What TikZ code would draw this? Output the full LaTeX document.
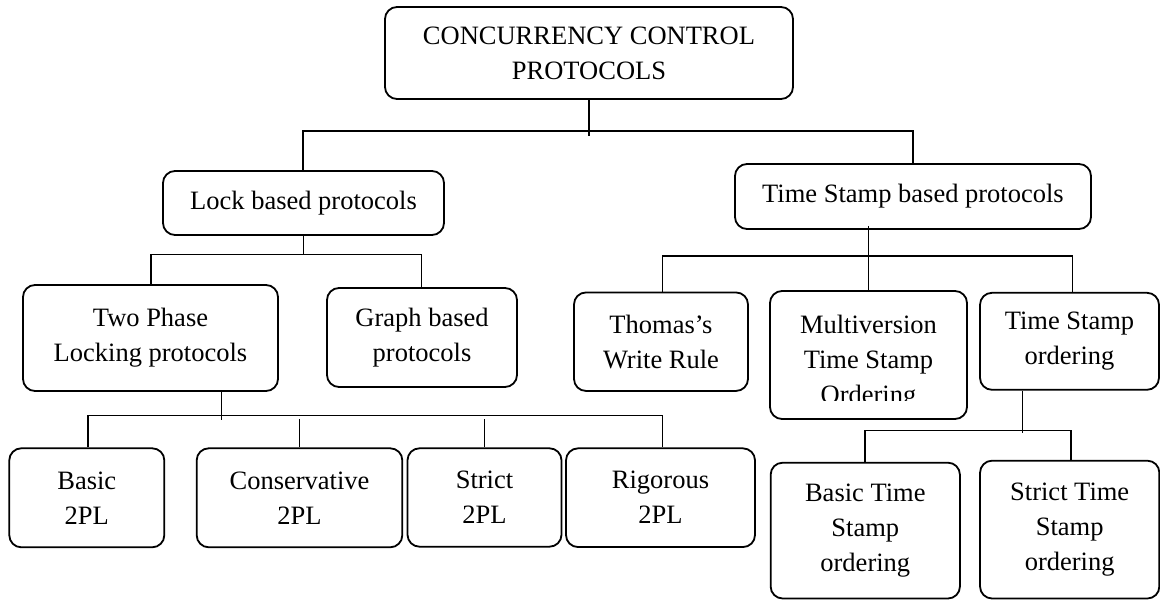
\documentclass[tikz,border=0pt]{standalone}
\usepackage{fontspec}
\setmainfont{Liberation Serif}
\tikzset{
  box/.style={draw, line width=1.8pt, rounded corners=12pt, inner sep=0pt,
              align=center, font=\fontsize{26.5}{35}\selectfont},
  txt/.style={inner sep=0pt, align=center, font=\fontsize{26.5}{35}\selectfont},
  link/.style={line width=1.2pt},
}
\begin{document}
\begin{tikzpicture}[x=1pt,y=-1pt]
\useasboundingbox (0,0) rectangle (1160,601);

% level 0
\node[box, minimum width=408pt, minimum height=92pt] (root) at (589,53)
  {CONCURRENCY CONTROL\\PROTOCOLS};

% level 1
\node[box, minimum width=281pt, minimum height=64pt] (lock) at (303.5,203)
  {Lock based protocols};
\node[box, minimum width=356pt, minimum height=65pt] (ts) at (913,196.5)
  {Time Stamp based protocols};

% level 2, lock based
\node[box, minimum width=255pt, minimum height=106pt] (twopl) at (150.5,338)
  {Two Phase\\Locking protocols};
\node[box, minimum width=190pt, minimum height=99pt] (graph) at (422,337.5)
  {Graph based\\protocols};

% level 2, time stamp based
\node[box, minimum width=174pt, minimum height=98.5pt] (thomas) at (661,341.7)
  {Thomas’s\\Write Rule};
\node[box, minimum width=197pt, minimum height=128pt] (mv) at (868.5,355) {};
\begin{scope}
  \clip (770,291) rectangle (967,400.5);
  \node[txt] (mvtext) at (868.5,362) {Multiversion\\Time Stamp\\Ordering};
\end{scope}
\node[box, minimum width=179pt, minimum height=97pt] (tso) at (1069.5,341.3)
  {Time Stamp\\ordering};

% level 3, two phase locking
\node[box, minimum width=155pt, minimum height=99pt] (basic) at (86.8,497.8)
  {Basic\\2PL};
\node[box, minimum width=205.6pt, minimum height=99pt] (cons) at (299.5,497.8)
  {Conservative\\2PL};
\node[box, minimum width=154pt, minimum height=98.4pt] (strict) at (484.5,497.5)
  {Strict\\2PL};
\node[box, minimum width=189pt, minimum height=98.7pt] (rig) at (660.5,497.7)
  {Rigorous\\2PL};

% level 3, time stamp ordering
\node[box, minimum width=189.3pt, minimum height=135.8pt] (bts) at (865.3,530.6)
  {Basic Time\\Stamp\\ordering};
\node[box, minimum width=179.3pt, minimum height=137.8pt] (sts) at (1069.7,529.6)
  {Strict Time\\Stamp\\ordering};

% bus junctions
\coordinate (b0l) at (303,131);
\coordinate (b0r) at (913,131);
\coordinate (b1l) at (151,254.3);
\coordinate (b1r) at (421.7,254.3);
\coordinate (b2l) at (662.3,256);
\coordinate (b2r) at (1072.3,256);
\coordinate (b3l) at (88,415.7);
\coordinate (b3r) at (662.3,415.7);
\coordinate (b4l) at (865,430.7);
\coordinate (b4r) at (1071,430.7);

% root to level 1
\draw[link] (root.south) -- ++(0,36);
\draw[link] (lock.north -| b0l) |- (b0r) -- (ts.north -| b0r);

% lock based to level 2
\draw[link] (lock.south) -- (lock.south |- b1l);
\draw[link] (twopl.north -| b1l) |- (b1r) -- (graph.north -| b1r);

% time stamp based to level 2
\draw[link] (ts.south -| mv.north) ++(0,-4) -- (mv.north);
\draw[link] (thomas.north -| b2l) |- (b2r) -- (tso.north -| b2r);

% two phase locking to level 3
\draw[link] (twopl.south -| 221.7,0) -- ++(0,28.6);
\draw[link] (basic.north -| b3l) |- (b3r) -- (rig.north -| b3r);
\draw[link] (cons.north -| 299.3,0) -- ++(0,-28.3);
\draw[link] (strict.north -| 484.7,0) -- ++(0,-28);

% time stamp ordering to level 3
\draw[link] (tso.south -| 1022.3,0) -- ++(0,42.3);
\draw[link] (bts.north -| b4l) |- (b4r) -- (sts.north -| b4r);
\end{tikzpicture}
\end{document}
